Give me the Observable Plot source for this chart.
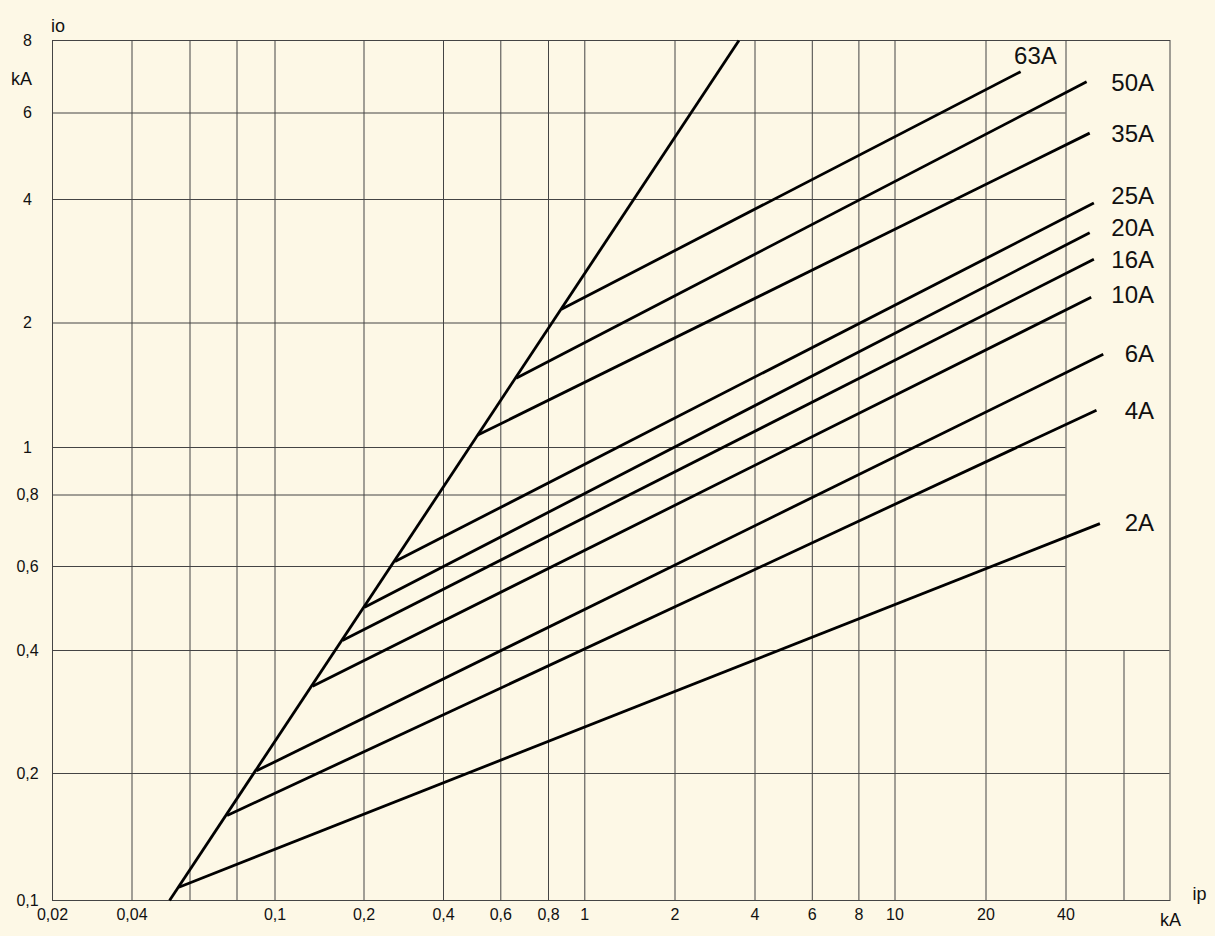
<!DOCTYPE html>
<html>
<head>
<meta charset="utf-8">
<script src="https://cdn.jsdelivr.net/npm/d3@7"></script>
<script src="https://cdn.jsdelivr.net/npm/@observablehq/plot@0.6"></script>
<style>
  html, body { margin: 0; padding: 0; background: #fdf8e6; }
  #chart { width: 1215px; height: 936px; }
</style>
</head>
<body>
<div id="chart"></div>
<script>
// ---- data (ip in kA on x, io in kA on y) ----
const ratings  = ["63A", "50A", "35A", "25A", "20A", "16A", "10A", "6A", "4A", "2A"];
const startIp  = [0.866, 0.658, 0.508, 0.262, 0.201, 0.169, 0.134, 0.0897, 0.0753, 0.0555];
const startIo  = [2.16, 1.47, 1.07, 0.612, 0.493, 0.420, 0.327, 0.203, 0.159, 0.1075];
const endIp    = [27.0, 46.2, 47.2, 48.6, 47.2, 48.6, 47.7, 51.9, 49.5, 50.7];
const endIo    = [7.07, 6.79, 5.46, 3.92, 3.32, 2.86, 2.31, 1.68, 1.23, 0.713];
const labelIp  = [30.7, null, null, null, null, null, null, null, null, null];
const labelIo  = [7.51, 6.76, 5.42, 4.06, 3.41, 2.85, 2.33, 1.68, 1.22, 0.715];

// envelope (steep) line
const envelopeIp = [0.052, 3.48];
const envelopeIo = [0.1, 8];

// axis ticks / grid values
const xTickLabels = [0.02, 0.04, 0.1, 0.2, 0.4, 0.6, 0.8, 1, 2, 4, 6, 8, 10, 20, 40];
const xGridFull   = [0.04, 0.06, 0.08, 0.1, 0.2, 0.4, 0.6, 0.8, 1, 2, 4, 6, 8, 10, 20, 40];
const xGridPart   = [60];
const yTickLabels = [0.1, 0.2, 0.4, 0.6, 0.8, 1, 2, 4, 6, 8];
const yGridShort  = [0.6, 0.8, 1, 2, 4, 6];
const yGridLong   = [0.2, 0.4];

// ---- scale layout (the printed grid is not an exact log grid) ----
const xKnots   = [0.02, 0.04, 0.06, 0.08, 0.1, 0.2, 0.4, 0.6, 0.8, 1, 2, 4, 6, 8, 10, 20, 40, 60, 80];
const xKnotPos = [52, 131.5, 189.5, 236.5, 274.5, 363.5, 443, 500.3, 548, 584.3, 674.5, 754.5, 811.8, 858.4, 894.5, 985.5, 1065.5, 1123.5, 1169.5];
const yKnots   = [0.1, 0.2, 0.4, 0.6, 0.8, 1, 2, 4, 6, 8];
const yKnotPos = [900, 773, 650, 566, 494.5, 447, 322.5, 199, 112.5, 40];

const fmt = d => String(d).replace(".", ",");

const branches = ratings.map((r, i) => ({
  rating: r, x1: startIp[i], y1: startIo[i], x2: endIp[i], y2: endIo[i],
  lx: labelIp[i], ly: labelIo[i]
}));
const envelope = envelopeIp.map((x, i) => ({ip: x, io: envelopeIo[i]}));

const gridColor = "#444";
const ink = "#111";
const font = "'Liberation Sans', Arial, Helvetica, sans-serif";

const chart = Plot.plot({
  width: 1215,
  height: 936,
  marginLeft: 52,
  marginRight: 45.5,
  marginTop: 40,
  marginBottom: 36,
  style: {background: "#fdf8e6", fontFamily: font, color: ink},
  x: {type: "log", domain: xKnots, range: xKnotPos, axis: null},
  y: {type: "log", domain: yKnots, range: yKnotPos, axis: null},
  marks: [
    Plot.ruleX(xGridFull, {y1: 0.1, y2: 8, stroke: gridColor, strokeWidth: 1}),
    Plot.ruleX(xGridPart, {y1: 0.1, y2: 0.4, stroke: gridColor, strokeWidth: 1}),
    Plot.ruleY(yGridShort, {x1: 0.02, x2: 40, stroke: gridColor, strokeWidth: 1}),
    Plot.ruleY(yGridLong, {x1: 0.02, x2: 80, stroke: gridColor, strokeWidth: 1}),
    Plot.frame({stroke: gridColor, strokeWidth: 1}),
    // tick labels
    Plot.text(xTickLabels, {x: d => d, text: fmt, frameAnchor: "bottom", dy: 19, fontSize: 16, fill: ink}),
    Plot.text(yTickLabels, {y: d => d, text: fmt, frameAnchor: "left", dx: -25, fontSize: 16, textAnchor: "middle", fill: ink}),
    // curves
    Plot.line(envelope, {x: "ip", y: "io", stroke: "#000", strokeWidth: 2.8, strokeLinecap: "butt"}),
    Plot.link(branches, {x1: "x1", y1: "y1", x2: "x2", y2: "y2", stroke: "#000", strokeWidth: 2.8, strokeLinecap: "butt"}),
    // series labels
    Plot.text(branches.filter(d => d.lx != null), {x: "lx", y: "ly", text: "rating", fontSize: 24, textAnchor: "middle", fill: ink}),
    Plot.text(branches.filter(d => d.lx == null), {y: "ly", text: "rating", frameAnchor: "right", dx: -16, fontSize: 24, textAnchor: "end", fill: ink}),
    // axis titles / units
    Plot.text(["io"], {text: d => d, frameAnchor: "top-left", dx: 5.5, dy: -21, fontSize: 18, textAnchor: "middle", fill: ink}),
    Plot.text(["kA"], {text: d => d, frameAnchor: "top-left", dx: -31, dy: 32, fontSize: 18, textAnchor: "middle", fill: ink}),
    Plot.text(["ip"], {text: d => d, frameAnchor: "bottom-right", dx: 29.5, dy: -1, fontSize: 18, textAnchor: "middle", fill: ink}),
    Plot.text(["kA"], {text: d => d, frameAnchor: "bottom-right", dx: 0.5, dy: 25, fontSize: 18, textAnchor: "middle", fill: ink})
  ]
});

document.getElementById("chart").appendChild(chart);
</script>
</body>
</html>
